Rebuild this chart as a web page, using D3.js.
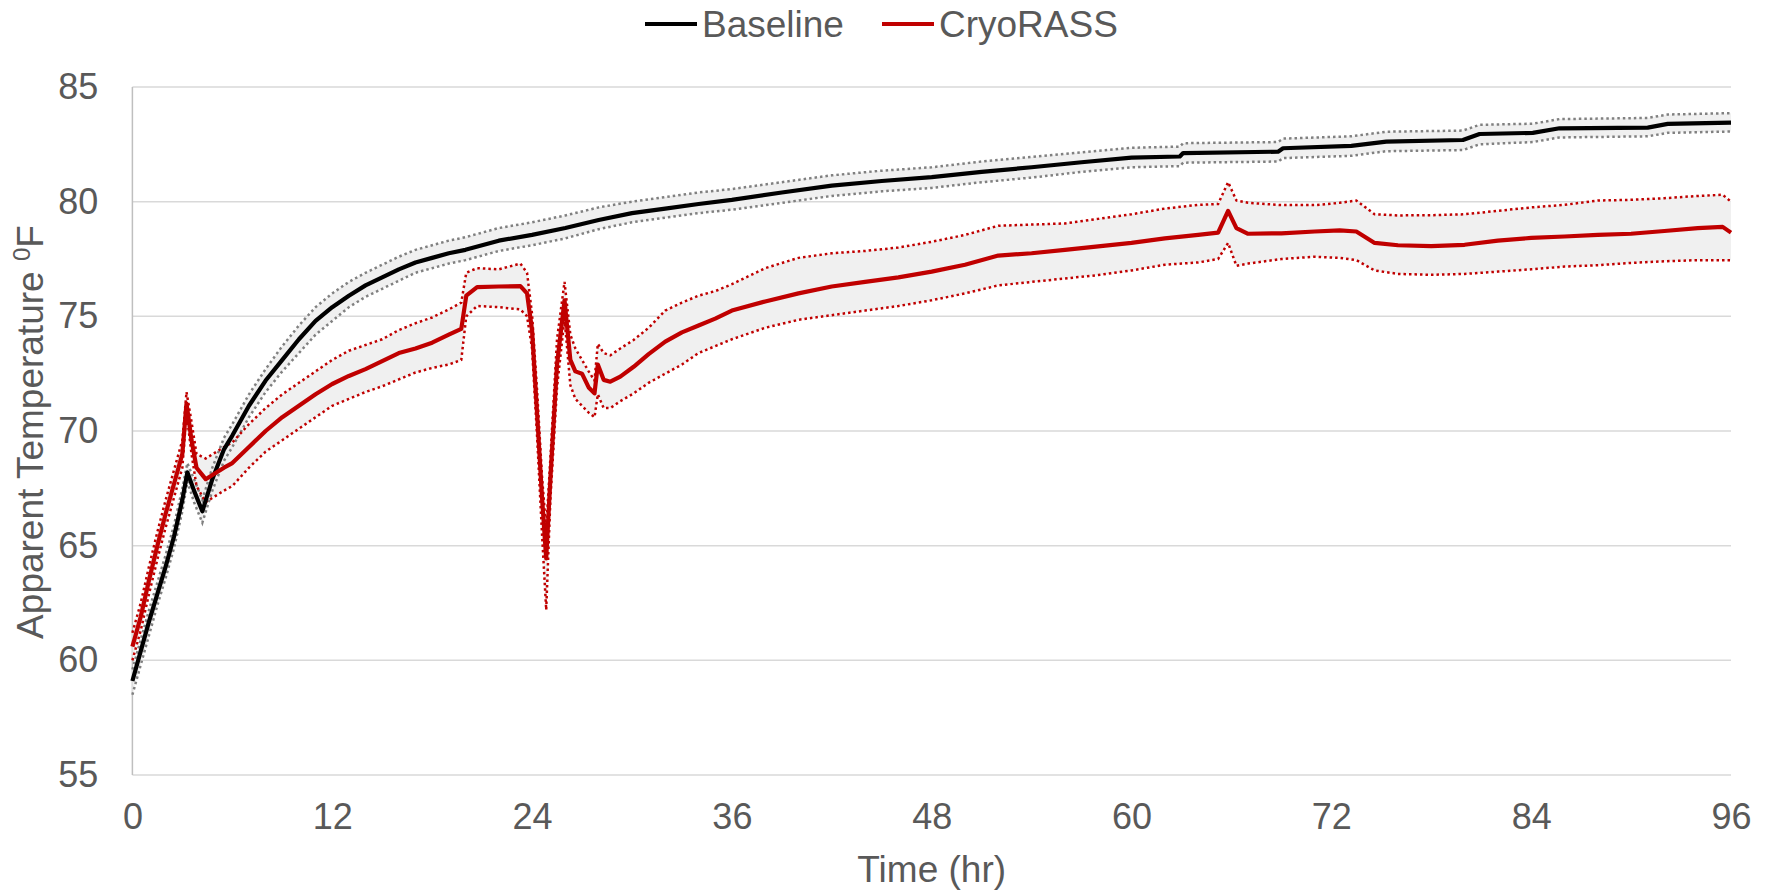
<!DOCTYPE html>
<html>
<head>
<meta charset="utf-8">
<script src="https://cdn.jsdelivr.net/npm/d3@7"></script>
<style>
  body { margin: 0; background: #fff; }
  text { font-family: "Liberation Sans", Arial, sans-serif; fill: #595959; }
</style>
</head>
<body>
<div id="chart"></div>
<script>
// Chart data

var xTicks = [0, 12, 24, 36, 48, 60, 72, 84, 96];
var yTicks = [55, 60, 65, 70, 75, 80, 85];

// Baseline: time (hr), mean, upper and lower bounds
var baseTime = [0, 0.5, 1, 1.5, 2, 2.5, 3, 3.3, 3.7, 4.2, 4.8, 5.5, 6, 7, 8, 9, 10, 11, 12, 13, 14, 15, 16, 17, 18, 19, 20, 22, 24, 26, 28, 30, 32, 34, 36, 39, 42, 45, 48, 51, 54, 57, 60, 62.9, 63.1, 68.8, 69.1, 73.2, 75.3, 79.9, 80.9, 84.1, 85.7, 91, 92.2, 96];
var baseMean = [59.1, 60.4, 61.7, 62.9, 64.1, 65.4, 67.0, 68.2, 67.4, 66.5, 67.9, 69.2, 69.8, 71.1, 72.2, 73.1, 74.0, 74.8, 75.4, 75.9, 76.35, 76.7, 77.05, 77.35, 77.55, 77.75, 77.9, 78.3, 78.55, 78.85, 79.2, 79.5, 79.7, 79.9, 80.08, 80.4, 80.7, 80.9, 81.07, 81.3, 81.5, 81.72, 81.92, 81.97, 82.12, 82.18, 82.33, 82.43, 82.62, 82.69, 82.95, 83.0, 83.2, 83.23, 83.39, 83.45];
var baseUpper = [59.6, 60.9, 62.2, 63.4, 64.6, 65.9, 67.5, 68.6, 67.9, 67.0, 68.4, 69.7, 70.3, 71.6, 72.7, 73.7, 74.6, 75.4, 76.0, 76.5, 76.9, 77.25, 77.6, 77.9, 78.1, 78.3, 78.45, 78.85, 79.1, 79.4, 79.75, 80.0, 80.2, 80.4, 80.55, 80.85, 81.15, 81.35, 81.5, 81.75, 81.95, 82.15, 82.35, 82.4, 82.55, 82.6, 82.75, 82.85, 83.05, 83.1, 83.35, 83.4, 83.6, 83.65, 83.8, 83.86];
var baseLower = [58.5, 59.8, 61.1, 62.4, 63.6, 64.9, 66.5, 67.8, 66.9, 66.0, 67.4, 68.7, 69.3, 70.6, 71.7, 72.6, 73.4, 74.2, 74.8, 75.4, 75.85, 76.2, 76.55, 76.9, 77.1, 77.3, 77.45, 77.85, 78.1, 78.4, 78.8, 79.1, 79.3, 79.5, 79.65, 79.95, 80.25, 80.45, 80.6, 80.85, 81.05, 81.3, 81.5, 81.55, 81.7, 81.75, 81.9, 82.0, 82.2, 82.25, 82.5, 82.6, 82.8, 82.85, 83.0, 83.06];

// CryoRASS: time (hr), mean, upper and lower bounds
var cryoTime = [0, 0.5, 1, 1.5, 2, 2.5, 3, 3.25, 3.55, 3.85, 4.4, 5.5, 6, 7, 8, 9, 10, 11, 12, 13, 14, 15, 16, 17, 18, 19, 19.75, 20.05, 20.7, 22, 23.3, 23.7, 24.0, 24.3, 24.6, 24.85, 25.1, 25.5, 25.95, 26.3, 26.6, 27.0, 27.4, 27.75, 27.95, 28.3, 28.7, 29.3, 30.1, 31, 32, 33, 34, 35, 36, 38, 40, 42, 44, 46, 48, 50, 52, 54, 56, 58, 60, 62, 64, 65.2, 65.8, 66.3, 67, 69, 71, 72.5, 73.5, 74.6, 76, 78, 80, 82, 84, 86, 88, 90, 92, 94, 95.5, 96];
var cryoMean = [60.6, 61.9, 63.5, 65.0, 66.4, 67.7, 69.0, 71.2, 69.6, 68.4, 67.9, 68.4, 68.6, 69.3, 70.0, 70.6, 71.1, 71.6, 72.05, 72.4, 72.7, 73.05, 73.4, 73.6, 73.85, 74.2, 74.45, 75.9, 76.27, 76.3, 76.32, 76.0, 74.4, 70.8, 67.1, 64.45, 67.9, 72.9, 75.7, 73.1, 72.6, 72.5, 71.9, 71.64, 72.9, 72.23, 72.15, 72.37, 72.8, 73.35, 73.9, 74.3, 74.6, 74.9, 75.25, 75.65, 76.0, 76.3, 76.5, 76.7, 76.95, 77.25, 77.65, 77.75, 77.9, 78.05, 78.2, 78.4, 78.55, 78.65, 79.6, 78.85, 78.6, 78.62, 78.7, 78.75, 78.7, 78.2, 78.1, 78.06, 78.12, 78.3, 78.42, 78.48, 78.55, 78.6, 78.72, 78.85, 78.9, 78.65];
var cryoUpper = [61.2, 62.5, 64.1, 65.6, 67.0, 68.3, 69.6, 71.7, 70.4, 69.0, 68.8, 69.3, 69.5, 70.3, 71.0, 71.6, 72.1, 72.6, 73.1, 73.5, 73.75, 74.0, 74.4, 74.7, 74.95, 75.3, 75.6, 76.9, 77.1, 77.05, 77.3, 76.9, 75.1, 71.8, 68.0, 65.7, 68.8, 74.0, 76.5, 74.2, 73.6, 73.1, 72.6, 72.2, 73.8, 73.4, 73.3, 73.6, 73.97, 74.5, 75.25, 75.6, 75.9, 76.1, 76.4, 77.1, 77.55, 77.75, 77.85, 78.0, 78.25, 78.55, 78.95, 79.0, 79.05, 79.25, 79.45, 79.7, 79.86, 79.9, 80.85, 80.05, 79.95, 79.85, 79.85, 79.95, 80.05, 79.45, 79.4, 79.41, 79.45, 79.6, 79.75, 79.86, 80.05, 80.08, 80.15, 80.25, 80.3, 80.0];
var cryoLower = [60.0, 61.3, 62.9, 64.4, 65.8, 67.1, 68.4, 70.8, 69.0, 67.6, 66.9, 67.4, 67.6, 68.4, 69.1, 69.6, 70.1, 70.6, 71.1, 71.4, 71.7, 71.95, 72.25, 72.55, 72.75, 72.9, 73.1, 75.0, 75.45, 75.4, 75.3, 75.0, 73.6, 69.8, 65.5, 62.2, 67.0, 71.9, 74.9, 72.0, 71.4, 71.1, 70.8, 70.6, 71.6, 71.0, 71.0, 71.3, 71.64, 72.1, 72.5, 72.9, 73.4, 73.7, 74.0, 74.5, 74.85, 75.05, 75.25, 75.45, 75.7, 76.0, 76.35, 76.5, 76.65, 76.8, 77.0, 77.25, 77.35, 77.5, 78.2, 77.2, 77.3, 77.5, 77.6, 77.55, 77.45, 77.0, 76.85, 76.81, 76.85, 76.95, 77.05, 77.17, 77.23, 77.33, 77.4, 77.45, 77.45, 77.45];

// Layout
var width = 1774;
var height = 892;
var plotLeft = 132.4, plotRight = 1731, plotTop = 87, plotBottom = 775;

var svg = d3.select("#chart")
    .append("svg")
    .attr("width", width)
    .attr("height", height);

var xScale = d3.scaleLinear().domain([0, 96]).range([plotLeft, plotRight]);
var yScale = d3.scaleLinear().domain([55, 85]).range([plotBottom, plotTop]);

// gridlines
svg.append("g")
    .selectAll("line")
    .data(yTicks)
    .enter()
    .append("line")
    .attr("x1", plotLeft)
    .attr("x2", plotRight)
    .attr("y1", function(d){ return yScale(d); })
    .attr("y2", function(d){ return yScale(d); })
    .attr("stroke", "#d9d9d9")
    .attr("stroke-width", 1.5);

// left axis line
svg.append("line")
    .attr("x1", plotLeft).attr("x2", plotLeft)
    .attr("y1", plotTop).attr("y2", plotBottom)
    .attr("stroke", "#bfbfbf")
    .attr("stroke-width", 1.5);

// tick labels
var yAxis = d3.axisLeft(yScale).tickValues(yTicks).tickSize(0).tickPadding(34);
svg.append("g")
    .attr("transform", "translate(" + plotLeft + ",0)")
    .call(yAxis)
    .call(function(g){ g.select(".domain").remove(); })
    .selectAll("text")
    .attr("font-size", 36)
    .attr("font-family", "Liberation Sans, Arial, sans-serif")
    .attr("fill", "#595959");

var xAxis = d3.axisBottom(xScale).tickValues(xTicks).tickSize(0).tickPadding(28);
svg.append("g")
    .attr("transform", "translate(0," + plotBottom + ")")
    .call(xAxis)
    .call(function(g){ g.select(".domain").remove(); })
    .selectAll("text")
    .attr("font-size", 36)
    .attr("font-family", "Liberation Sans, Arial, sans-serif")
    .attr("fill", "#595959");

// build a series table
function rows(time, mean, upper, lower){
    return time.map(function(t, i){
        return { t: t, m: mean[i], u: upper[i], l: lower[i] };
    });
}

var baseRows = rows(baseTime, baseMean, baseUpper, baseLower);
var cryoRows = rows(cryoTime, cryoMean, cryoUpper, cryoLower);

var area = d3.area()
    .x(function(d){ return xScale(d.t); })
    .y0(function(d){ return yScale(d.l); })
    .y1(function(d){ return yScale(d.u); });

function lineOf(key){
    return d3.line()
        .x(function(d){ return xScale(d.t); })
        .y(function(d){ return yScale(d[key]); });
}

// shaded bands
[baseRows, cryoRows].forEach(function(r){
    svg.append("path")
        .datum(r)
        .attr("d", area)
        .attr("fill", "#f0f0f0");
});

// dotted bounds
function bounds(r, color){
    ["u", "l"].forEach(function(k){
        svg.append("path")
            .datum(r)
            .attr("d", lineOf(k))
            .attr("fill", "none")
            .attr("stroke", color)
            .attr("stroke-width", 2.5)
            .attr("stroke-dasharray", "2.5,3");
    });
}
bounds(baseRows, "#808080");
bounds(cryoRows, "#c00000");

// mean lines
svg.append("path")
    .datum(baseRows)
    .attr("d", lineOf("m"))
    .attr("fill", "none")
    .attr("stroke", "#000")
    .attr("stroke-width", 4.2)
    .attr("stroke-linejoin", "round");

svg.append("path")
    .datum(cryoRows)
    .attr("d", lineOf("m"))
    .attr("fill", "none")
    .attr("stroke", "#c00000")
    .attr("stroke-width", 4.2)
    .attr("stroke-linejoin", "round");

// axis titles
svg.append("text")
    .attr("x", (plotLeft + plotRight) / 2)
    .attr("y", 882)
    .attr("text-anchor", "middle")
    .attr("font-size", 37)
    .text("Time (hr)");

var yTitle = svg.append("text")
    .attr("transform", "translate(43,432) rotate(-90)")
    .attr("text-anchor", "middle")
    .attr("font-size", 37);
yTitle.append("tspan").text("Apparent Temperature ");
yTitle.append("tspan").attr("font-size", 24).attr("dy", -13).text("0");
yTitle.append("tspan").attr("dy", 13).text("F");

// legend
var legend = [
    { name: "Baseline", color: "#000", x: 645 },
    { name: "CryoRASS", color: "#c00000", x: 882 }
];
var lg = svg.append("g").selectAll("g").data(legend).enter().append("g");
lg.append("line")
    .attr("x1", function(d){ return d.x; })
    .attr("x2", function(d){ return d.x + 52; })
    .attr("y1", 24).attr("y2", 24)
    .attr("stroke", function(d){ return d.color; })
    .attr("stroke-width", 4);
lg.append("text")
    .attr("x", function(d){ return d.x + 57; })
    .attr("y", 37)
    .attr("font-size", 37)
    .text(function(d){ return d.name; });
</script>
</body>
</html>
